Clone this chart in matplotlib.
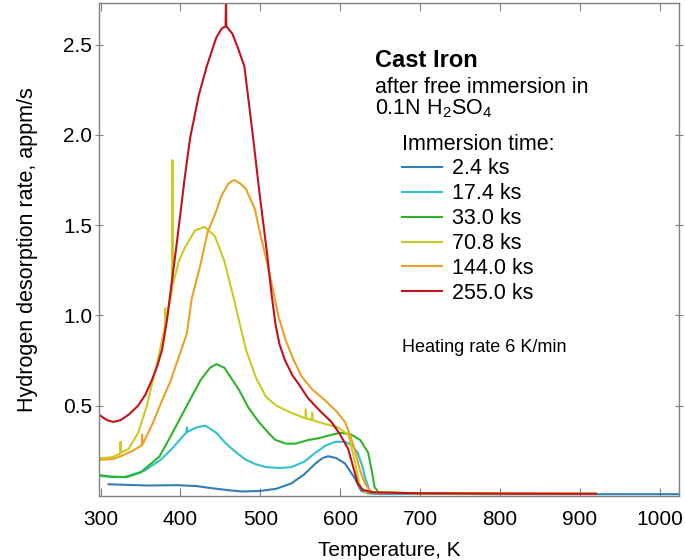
import numpy as np
import matplotlib
matplotlib.use('Agg')
import matplotlib.pyplot as plt
from matplotlib.lines import Line2D

plt.rcParams['font.family'] = ['Liberation Sans', 'DejaVu Sans']
plt.rcParams['mathtext.fontset'] = 'custom'
plt.rcParams['mathtext.rm'] = 'Liberation Sans'

# immersion times (legend labels)
labels = ['2.4 ks', '17.4 ks', '33.0 ks', '70.8 ks', '144.0 ks', '255.0 ks']
colors = ['#2f7fb5', '#30c2cf', '#2cb52c', '#c9cb22', '#e9a126', '#c2121c']

# 2.4 ks
t_24 = [310, 330, 360, 395, 420, 436, 460, 477, 500, 520, 539, 555, 569, 578, 585,
        595, 606, 618, 626, 635, 650, 700, 800, 900, 1024]
r_24 = [0.065, 0.062, 0.058, 0.06, 0.055, 0.045, 0.032, 0.025, 0.028, 0.04, 0.07,
        0.12, 0.18, 0.21, 0.22, 0.21, 0.18, 0.10, 0.03, 0.015, 0.012, 0.012, 0.01,
        0.01, 0.01]

# 17.4 ks
t_174 = [300, 330, 355, 375, 389, 407, 408, 409, 420, 431, 445, 457, 470, 482, 495,
         507, 525, 539, 555, 569, 582, 594, 606, 615, 622, 628, 632, 637, 645, 700,
         800, 920]
r_174 = [0.11, 0.105, 0.14, 0.20, 0.26, 0.35, 0.38, 0.355, 0.38, 0.39, 0.35, 0.29,
         0.24, 0.20, 0.175, 0.16, 0.155, 0.16, 0.19, 0.24, 0.28, 0.30, 0.30, 0.28,
         0.24, 0.16, 0.09, 0.03, 0.015, 0.013, 0.012, 0.012]

# 33.0 ks
t_330 = [300, 315, 333, 350, 374, 390, 408, 425, 437, 445, 455, 473, 485, 498, 510,
         519, 532, 544, 560, 573, 590, 601, 614, 625, 635, 640, 643, 648, 700, 800,
         920]
r_330 = [0.115, 0.105, 0.105, 0.13, 0.22, 0.35, 0.50, 0.64, 0.71, 0.73, 0.71, 0.59,
         0.49, 0.41, 0.35, 0.31, 0.29, 0.29, 0.31, 0.32, 0.34, 0.35, 0.34, 0.31,
         0.24, 0.13, 0.05, 0.02, 0.015, 0.012, 0.012]

# 70.8 ks (with the measurement spikes)
t_708 = [300, 315, 324.5, 325, 325.5, 335, 347, 358, 366, 374, 380.5, 381, 381.5,
         389.5, 390, 390.5, 398, 405, 418, 430, 443, 455, 467, 482, 495, 507, 520,
         539, 556.5, 557, 557.5, 564.5, 565, 565.5, 580, 597, 610, 618, 625, 632,
         700, 800, 920]
r_708 = [0.21, 0.215, 0.235, 0.30, 0.24, 0.26, 0.35, 0.50, 0.65, 0.80, 0.94, 1.04,
         0.96, 1.14, 1.86, 1.17, 1.30, 1.37, 1.47, 1.49, 1.44, 1.30, 1.09, 0.81,
         0.65, 0.55, 0.50, 0.46, 0.43, 0.48, 0.43, 0.42, 0.46, 0.42, 0.40, 0.38,
         0.34, 0.20, 0.05, 0.02, 0.015, 0.013, 0.012]

# 144.0 ks
t_1440 = [300, 315, 325, 340, 351.5, 352, 352.5, 365, 377, 387, 398, 408, 414, 425,
          434, 445, 451, 460, 467, 475, 482, 493, 500, 507, 514, 523, 532, 542, 552,
          565, 581, 595, 606, 613, 618, 625, 631, 638, 650, 700, 800, 920]
r_1440 = [0.20, 0.205, 0.22, 0.25, 0.28, 0.34, 0.285, 0.40, 0.53, 0.63, 0.77, 0.90,
          1.09, 1.28, 1.46, 1.58, 1.66, 1.73, 1.75, 1.73, 1.70, 1.59, 1.45, 1.32,
          1.18, 0.99, 0.86, 0.75, 0.66, 0.59, 0.53, 0.47, 0.41, 0.33, 0.26, 0.14,
          0.07, 0.025, 0.018, 0.015, 0.013, 0.012]

# 255.0 ks
t_2550 = [298, 308, 316, 325, 335, 347, 356, 364, 371, 377, 383, 389, 394, 399, 405,
          412, 423, 433, 445, 452, 456.5, 457, 457.5, 465, 472, 480, 490, 500, 508,
          514, 519, 524, 531, 540, 548, 560, 575, 589, 600, 610, 617, 622, 628, 640,
          700, 800, 920]
r_2550 = [0.45, 0.42, 0.41, 0.42, 0.45, 0.50, 0.56, 0.64, 0.72, 0.81, 0.97, 1.18,
          1.35, 1.53, 1.75, 1.98, 2.22, 2.38, 2.54, 2.59, 2.60, 2.76, 2.60, 2.56,
          2.48, 2.38, 2.02, 1.64, 1.36, 1.12, 0.95, 0.84, 0.75, 0.67, 0.62, 0.54,
          0.47, 0.41, 0.34, 0.26, 0.15, 0.07, 0.035, 0.02, 0.015, 0.013, 0.012]

temps = [t_24, t_174, t_330, t_708, t_1440, t_2550]
rates = [r_24, r_174, r_330, r_708, r_1440, r_2550]

fig = plt.figure(figsize=(6.85, 5.6), dpi=100)
ax = fig.add_axes([0.1445, 0.1143, 0.8465, 0.8804])

for t, r, c in zip(temps, rates, colors):
    ax.plot(t, r, color=c, linewidth=1.5)

ax.set_xlim(298, 1024)
ax.set_ylim(0, 2.73)
ax.set_xticks(np.arange(300, 1001, 100))
ax.set_yticks([0.5, 1.0, 1.5, 2.0, 2.5])
ax.tick_params(axis='x', direction='in', top=True, length=6, width=0.8,
               color='#808080', labelsize=15, pad=10)
ax.tick_params(axis='y', direction='inout', right=True, length=6, width=0.8,
               color='#808080', labelsize=15, pad=2)
for s in ax.spines.values():
    s.set_color('#808080')
    s.set_linewidth(1.0)

ax.set_xlabel('Temperature, K', fontsize=15, labelpad=9)
ax.set_ylabel('Hydrogen desorption rate, appm/s', fontsize=15.5)
ax.yaxis.set_label_coords(-0.105, 0.5)

ax.text(0.476, 0.870, 'Cast Iron', transform=ax.transAxes, fontsize=17,
        fontweight='bold', va='baseline')
ax.text(0.476, 0.817, 'after free immersion in', transform=ax.transAxes,
        fontsize=15.5, va='baseline')
ax.text(0.476, 0.773, r'0.1N H$_2$SO$_4$', transform=ax.transAxes,
        fontsize=15.5, va='baseline')

handles = [Line2D([0], [0], color=c, linewidth=1.5) for c in colors]
leg = ax.legend(handles, labels, title='Immersion time:', loc='upper left',
                bbox_to_anchor=(0.522, 0.735), frameon=False, fontsize=15.5,
                title_fontsize=15.5, handlelength=1.86, handletextpad=0.47,
                labelspacing=0.18, borderpad=0, borderaxespad=0)
leg._legend_box.align = 'left'

ax.text(0.522, 0.292, 'Heating rate 6 K/min', transform=ax.transAxes,
        fontsize=13, va='baseline')

fig.savefig('out.png', dpi=100)
